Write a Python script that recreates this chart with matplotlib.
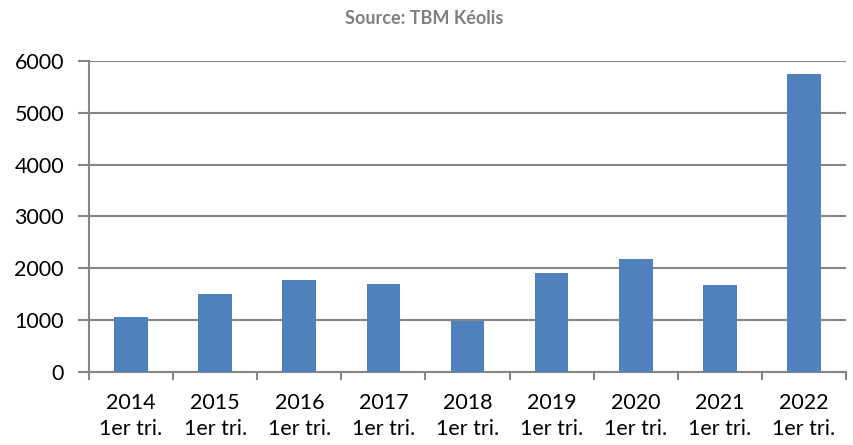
import numpy as np
import matplotlib
matplotlib.use("Agg")
import matplotlib.pyplot as plt

years = ["2014", "2015", "2016", "2017", "2018", "2019", "2020", "2021", "2022"]
quarter = "1er tri."
values = [1060, 1505, 1770, 1695, 985, 1915, 2175, 1680, 5745]
yticks = [0, 1000, 2000, 3000, 4000, 5000, 6000]

plt.rcParams["font.family"] = ["Lato", "DejaVu Sans"]
grey = "#868686"

fig = plt.figure(figsize=(8.54, 4.45), dpi=100)
ax = fig.add_axes([0.1042, 0.164, 0.8864, 0.699])

x = np.arange(len(years))
ax.bar(x, values, width=0.4, color="#4F81BD", zorder=3)

ax.set_xlim(-0.5, len(years) - 0.5)
ax.set_ylim(0, 6000)
ax.set_yticks(yticks)
ax.set_yticklabels([str(v) for v in yticks], fontsize=15.5)
ax.grid(axis="y", color=grey, linewidth=1.5, zorder=0)

ax.set_xticks(x)
ax.set_xticklabels([y + "\n" + quarter for y in years], fontsize=15.5, linespacing=1.4)
ax.set_xticks(np.arange(-0.5, len(years)), minor=True)
ax.tick_params(axis="x", which="major", length=0, pad=15)
ax.tick_params(axis="x", which="minor", length=6, width=1.5, color=grey)
ax.tick_params(axis="y", length=8, width=1.5, color=grey, pad=10)

for s in ["top", "right"]:
    ax.spines[s].set_visible(False)
for s in ["left", "bottom"]:
    ax.spines[s].set_color(grey)
    ax.spines[s].set_linewidth(1.5)

fig.text(0.497, 0.958, "Source: TBM Kéolis", ha="center", va="center",
         fontsize=13, fontweight="bold", color="#7f7f7f")

fig.savefig("out.png", dpi=100)
